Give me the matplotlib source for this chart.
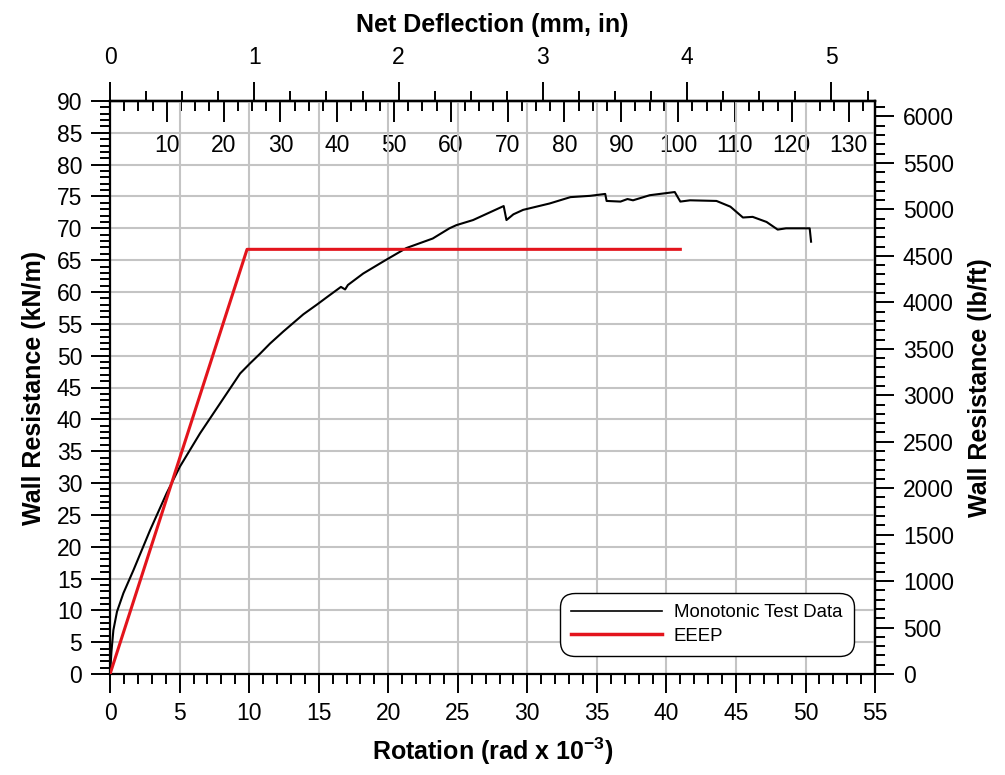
"""
Monotonic wall test: resistance vs rotation with EEEP curve
"""
import matplotlib
matplotlib.use('Agg')
import matplotlib.pyplot as plt
from matplotlib.ticker import MultipleLocator, FixedLocator

plt.rcParams['font.family'] = ['Liberation Sans', 'DejaVu Sans']
plt.rcParams['mathtext.fontset'] = 'custom'
plt.rcParams['mathtext.rm'] = 'Liberation Sans'
plt.rcParams['mathtext.bf'] = 'Liberation Sans:bold'

# Monotonic test data (rotation in rad x 10^-3, resistance in kN/m)
rotation = [0.0, 0.1, 0.24, 0.5, 0.96, 1.68, 2.88, 4.07, 5.03, 6.47, 7.91,
            9.35, 10.07, 10.78, 11.5, 12.46, 13.9, 14.86, 15.6, 16.6, 16.9,
            17.1, 18.2, 19.65, 21.3, 23.2, 24.4, 24.9, 26.1, 27.0, 28.3,
            28.5, 29.0, 29.7, 31.6, 33.1, 34.5, 35.6, 35.7, 36.7, 37.2,
            37.6, 38.8, 40.6, 41.0, 41.7, 43.6, 44.6, 45.5, 46.2, 47.2,
            48.0, 48.6, 50.3, 50.4]
resistance = [0.0, 3.5, 6.9, 9.8, 12.7, 16.3, 22.6, 28.4, 32.6, 37.8, 42.5,
              47.2, 48.8, 50.3, 51.9, 53.8, 56.5, 58.0, 59.2, 60.8, 60.4,
              61.1, 62.9, 64.8, 66.9, 68.4, 70.0, 70.5, 71.3, 72.2, 73.5,
              71.3, 72.2, 72.9, 73.9, 74.9, 75.1, 75.4, 74.3, 74.2, 74.6,
              74.4, 75.2, 75.7, 74.2, 74.4, 74.3, 73.4, 71.7, 71.8, 71.0,
              69.8, 70.0, 70.0, 67.9]

# EEEP bilinear curve
eeep_rotation = [0.0, 9.85, 41.0]
eeep_resistance = [0.0, 66.7, 66.7]

KN_TO_LBFT = 68.5218   # kN/m -> lb/ft
WALL_HEIGHT_IN = 96.4  # deflection = rotation * height

inch_ticks = [0, 1, 2, 3, 4, 5]
mm_ticks = list(range(10, 131, 10))

fig = plt.figure(figsize=(10.05, 7.75), dpi=100)
ax = fig.add_axes([0.1095, 0.1303, 0.7612, 0.7394])

ax.plot(rotation, resistance, color='black', lw=1.5, label='Monotonic Test Data', zorder=3)
ax.plot(eeep_rotation, eeep_resistance, color='#e3141c', lw=2.2, label='EEEP', zorder=4)

ax.set_xlim(0, 55)
ax.set_ylim(0, 90)
ax.xaxis.set_major_locator(MultipleLocator(5))
ax.xaxis.set_minor_locator(MultipleLocator(1))
ax.yaxis.set_major_locator(MultipleLocator(5))
ax.yaxis.set_minor_locator(MultipleLocator(1))
ax.grid(True, which='major', color='#c4c4c4', lw=1.5, zorder=0)
ax.set_axisbelow(True)

tick_kw = dict(labelsize=16.5, width=1.4, color='black')
ax.tick_params(axis='both', which='major', direction='out', length=14, pad=6, **tick_kw)
ax.tick_params(axis='both', which='minor', direction='out', length=7, width=1.4)
ax.tick_params(top=False, right=False, which='both')
for s in ax.spines.values():
    s.set_linewidth(1.6)

ax.set_xlabel(r'Rotation (rad x 10$^{\mathbf{-3}}$)', fontsize=18, fontweight='bold', labelpad=8)
ax.set_ylabel('Wall Resistance (kN/m)', fontsize=18, fontweight='bold', labelpad=8)

# right axis in lb/ft
axr = ax.secondary_yaxis('right', functions=(lambda y: y * KN_TO_LBFT, lambda y: y / KN_TO_LBFT))
axr.yaxis.set_major_locator(MultipleLocator(500))
axr.yaxis.set_minor_locator(MultipleLocator(100))
axr.tick_params(which='major', direction='out', length=14, pad=6, **tick_kw)
axr.tick_params(which='minor', direction='out', length=7, width=1.4)
axr.spines['right'].set_linewidth(1.6)
axr.set_ylabel('Wall Resistance (lb/ft)', fontsize=18, fontweight='bold', labelpad=10)

# top axis: inches (ticks outward, labels above)
axin = ax.secondary_xaxis('top', functions=(lambda r: r * WALL_HEIGHT_IN / 1000,
                                            lambda d: d * 1000 / WALL_HEIGHT_IN))
axin.xaxis.set_major_locator(FixedLocator(inch_ticks))
axin.xaxis.set_minor_locator(MultipleLocator(0.25))
axin.tick_params(which='major', direction='out', length=14, pad=9, **tick_kw)
axin.tick_params(which='minor', direction='out', length=7, width=1.4)
axin.spines['top'].set_linewidth(1.6)
axin.set_xlabel('Net Deflection (mm, in)', fontsize=18, fontweight='bold', labelpad=10)

# top axis: millimetres (ticks inward, labels inside the plot)
axmm = ax.secondary_xaxis('top', functions=(lambda r: r * WALL_HEIGHT_IN * 25.4 / 1000,
                                            lambda d: d * 1000 / (WALL_HEIGHT_IN * 25.4)))
axmm.xaxis.set_major_locator(FixedLocator(mm_ticks))
axmm.xaxis.set_minor_locator(MultipleLocator(2.5))
axmm.tick_params(which='major', direction='in', length=15, pad=-40, **tick_kw)
axmm.tick_params(which='minor', direction='in', length=7, width=1.4)
axmm.spines['top'].set_linewidth(1.6)

leg = ax.legend(loc='lower right', bbox_to_anchor=(0.972, 0.031), fontsize=13.4,
                handlelength=4.9, handletextpad=0.6, frameon=True, fancybox=True,
                framealpha=1, edgecolor='black', borderpad=0.62, labelspacing=0.35,
                borderaxespad=0)
leg.get_frame().set_boxstyle('round', pad=0, rounding_size=0.8)
leg.get_frame().set_linewidth(1.0)
leg.get_lines()[0].set_linewidth(1.2)
leg.get_lines()[1].set_linewidth(2.5)

fig.savefig('out.png', dpi=100)
